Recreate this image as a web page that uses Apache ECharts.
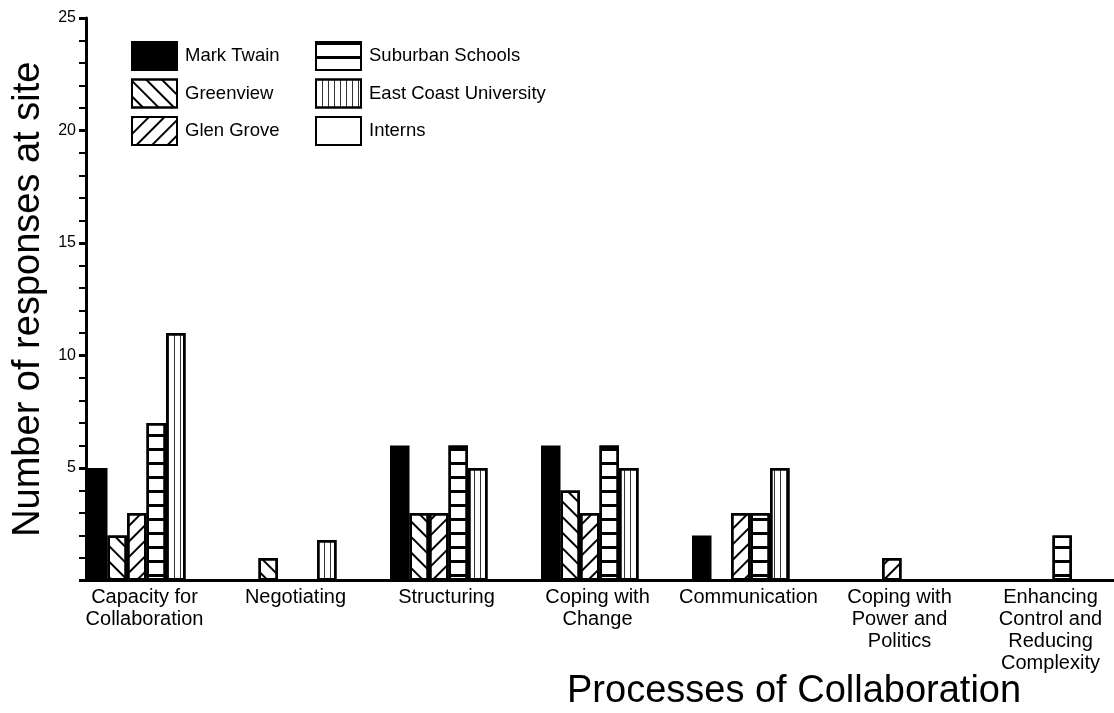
<!DOCTYPE html>
<html>
<head>
<meta charset="utf-8">
<script src="https://cdn.jsdelivr.net/npm/echarts@6/dist/echarts.min.js"></script>
<style>
  html, body { margin: 0; padding: 0; background: #fff; }
  #chart { width: 1114px; height: 713px; }
</style>
</head>
<body>
<div id="chart"></div>
<script>
// data
const categories = [
    'Capacity for\nCollaboration',
    'Negotiating',
    'Structuring',
    'Coping with\nChange',
    'Communication',
    'Coping with\nPower and\nPolitics',
    'Enhancing\nControl and\nReducing\nComplexity'
];
const markTwain = [5, null, 6, 6, 2, null, null];
const greenview = [2, 1, 3, 4, null, null, null];
const glenGrove = [3, null, 3, 3, 3, 1, null];
const suburban  = [7, null, 6, 6, 3, null, 2];
const eastCoast = [11, 1.8, 5, 5, 5, null, null];
const interns   = [null, null, null, null, null, null, null];
const yMax = 25;
const yStep = 5;

const FONT = '"Liberation Sans", Arial, sans-serif';

function bar(name, data, color, decal) {
    return {
        name: name,
        type: 'bar',
        data: data,
        barWidth: 19.5,
        barGap: '0%',
        itemStyle: {
            color: color,
            borderColor: '#000',
            borderWidth: 2.5,
            decal: decal
        },
        emphasis: { disabled: true }
    };
}

const series = [
    bar('Mark Twain', markTwain, '#000', null),
    bar('Greenview', greenview, '#fff', { symbol: 'rect', symbolSize: 1, dashArrayX: [1, 0], dashArrayY: [2, 9], rotation: Math.PI / 4, color: '#000' }),
    bar('Glen Grove', glenGrove, '#fff', { symbol: 'rect', symbolSize: 1, dashArrayX: [1, 0], dashArrayY: [2, 9], rotation: -Math.PI / 4, color: '#000' }),
    bar('Suburban Schools', suburban, '#fff', { symbol: 'rect', symbolSize: 1, dashArrayX: [1, 0], dashArrayY: [3, 11], color: '#000' }),
    bar('East Coast University', eastCoast, '#fff', { symbol: 'rect', symbolSize: 1, dashArrayX: [1, 5], dashArrayY: [1, 0], color: '#333' }),
    bar('Interns', interns, '#fff', null),
    // spacer so the groups sit where they do in the original
    { name: 'spacer', type: 'bar', data: interns, barWidth: 30, barGap: '0%', itemStyle: { opacity: 0 }, silent: true }
];

const legendBase = {
    orient: 'vertical',
    top: 41,
    padding: 0,
    icon: 'rect',
    itemWidth: 45,
    itemHeight: 28,
    itemGap: 7.5,
    selectedMode: false,
    textStyle: { fontFamily: FONT, fontSize: 18.5, color: '#000', padding: [0, 0, 0, 3] }
};

const chart = echarts.init(document.getElementById('chart'));
chart.setOption({
    backgroundColor: '#fff',
    animation: false,
    textStyle: { fontFamily: FONT },
    title: {
        text: 'Processes of Collaboration',
        left: 567,
        top: 673,
        padding: 0,
        textStyle: { fontFamily: FONT, fontSize: 38, fontWeight: 'normal', color: '#000' }
    },
    legend: [
        Object.assign({}, legendBase, { left: 131, data: ['Mark Twain', 'Greenview', 'Glen Grove'] }),
        Object.assign({}, legendBase, { left: 315, data: ['Suburban Schools', 'East Coast University', 'Interns'] })
    ],
    grid: { left: 86, top: 18, width: 1057, height: 562.5, outerBoundsMode: 'none' },
    xAxis: {
        type: 'category',
        data: categories,
        axisLine: { lineStyle: { color: '#000', width: 3 } },
        axisTick: { show: false },
        axisLabel: {
            interval: 0,
            color: '#000',
            fontFamily: FONT,
            fontSize: 20,
            lineHeight: 22,
            margin: 6,
            padding: [0, 34, 0, 0]
        }
    },
    yAxis: {
        type: 'value',
        min: 0,
        max: yMax,
        interval: yStep,
        name: 'Number of responses at site',
        nameLocation: 'middle',
        nameGap: 36,
        nameTextStyle: { fontFamily: FONT, fontSize: 38, color: '#000' },
        axisLine: { show: true, lineStyle: { color: '#000', width: 3 } },
        axisTick: { show: true, length: 7, lineStyle: { color: '#000', width: 3 } },
        minorTick: { show: true, splitNumber: 5, length: 7, lineStyle: { color: '#000', width: 2 } },
        splitLine: { show: false },
        axisLabel: {
            color: '#000',
            fontFamily: FONT,
            fontSize: 16,
            margin: 10,
            formatter: v => (v === 0 ? '' : String(v))
        }
    },
    series: series
});
</script>
</body>
</html>
